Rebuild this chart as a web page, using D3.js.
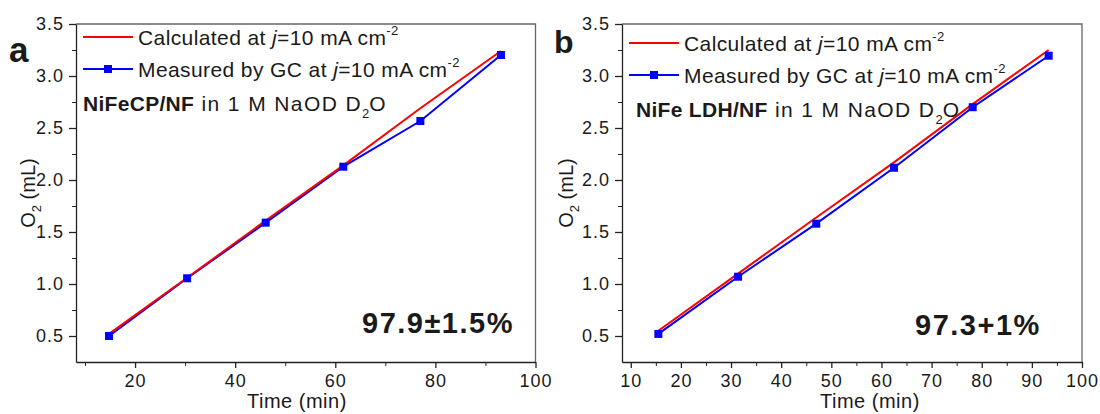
<!DOCTYPE html>
<html lang="en">
<head>
<meta charset="UTF-8" />
<title>O2 faradaic efficiency</title>
<script src="https://d3js.org/d3.v7.min.js"></script>
<style>
  body { margin: 0; background: #fff; }
  svg text { font-family: "Liberation Sans", Arial, sans-serif; fill: #1a1a1a; }
  .tick text { font-size: 18px; letter-spacing: 1px; }
  .tick line, .domain { stroke: #222; }
</style>
</head>
<body>
<div id="chart"></div>
<script>
// values
const timeA = [14.8, 30.4, 46.1, 61.6, 77.0, 93.1];
const measuredA = [0.50, 1.055, 1.59, 2.128, 2.567, 3.202];
const calculatedA = [0.52, 1.06, 1.61, 2.14, 2.69, 3.24];

const timeB = [15.5, 31.4, 47.0, 62.5, 78.2, 93.35];
const measuredB = [0.52, 1.07, 1.58, 2.118, 2.70, 3.195];
const calculatedB = [0.55, 1.10, 1.64, 2.17, 2.73, 3.25];

const yMajor = [0.5, 1.0, 1.5, 2.0, 2.5, 3.0, 3.5];
const yMinor = [0.75, 1.25, 1.75, 2.25, 2.75, 3.25];
const xMajorA = [20, 40, 60, 80, 100];
const xMinorA = [10, 30, 50, 70, 90];
const xMajorB = [10, 20, 30, 40, 50, 60, 70, 80, 90, 100];
const xMinorB = [15, 25, 35, 45, 55, 65, 75, 85, 95];

const svg = d3.select('#chart').append('svg')
  .attr('width', 1100).attr('height', 414);

const plotTop = 24, plotBottom = 362;

function drawPanel(o) {
  const x = d3.scaleLinear().domain(o.xDomain).range([o.left, o.right]);
  const y = d3.scaleLinear().domain([0.25, 3.5]).range([plotBottom, plotTop]);
  const g = svg.append('g');

  // top / right frame
  g.append('path')
    .attr('d', `M${o.left},${plotTop}H${o.right}V${plotBottom}`)
    .attr('fill', 'none').attr('stroke', '#666').attr('stroke-width', 1.3);

  // minor ticks
  g.append('g').attr('transform', `translate(${o.left},0)`)
    .call(d3.axisLeft(y).tickValues(yMinor).tickSize(4).tickFormat('').tickSizeOuter(0))
    .call(a => a.select('.domain').remove());
  g.append('g').attr('transform', `translate(0,${plotBottom})`)
    .call(d3.axisBottom(x).tickValues(o.xMinor).tickSize(4).tickFormat('').tickSizeOuter(0))
    .call(a => a.select('.domain').remove());

  g.append('g').attr('transform', `translate(${o.left},0)`)
    .call(d3.axisLeft(y).tickValues(yMajor).tickSize(7).tickPadding(5)
      .tickFormat(d3.format('.1f')).tickSizeOuter(0))
    .call(a => a.selectAll('line, .domain').attr('stroke-width', 1.3));
  g.append('g').attr('transform', `translate(0,${plotBottom})`)
    .call(d3.axisBottom(x).tickValues(o.xMajor).tickSize(6).tickPadding(6)
      .tickFormat(d3.format('d')).tickSizeOuter(0))
    .call(a => a.selectAll('line, .domain').attr('stroke-width', 1.3));

  const idx = d3.range(o.time.length);
  const calc = d3.line().x(i => x(o.time[i])).y(i => y(o.calc[i]));
  const meas = d3.line().x(i => x(o.time[i])).y(i => y(o.meas[i]));

  g.append('path').attr('d', meas(idx)).attr('fill', 'none')
    .attr('stroke', '#0000ff').attr('stroke-width', 2);
  g.append('path').attr('d', calc(idx)).attr('fill', 'none')
    .attr('stroke', '#ff0000').attr('stroke-width', 2);
  g.selectAll('rect.pt').data(idx).enter().append('rect')
    .attr('class', 'pt')
    .attr('x', i => x(o.time[i]) - 4).attr('y', i => y(o.meas[i]) - 4)
    .attr('width', 8).attr('height', 8).attr('fill', '#0000ff');

  // legend
  const L = o.left, ly = o.legendY;
  g.append('line').attr('x1', L + 7).attr('x2', L + 57)
    .attr('y1', ly).attr('y2', ly).attr('stroke', '#ff0000').attr('stroke-width', 2);
  g.append('line').attr('x1', L + 7).attr('x2', L + 57)
    .attr('y1', ly + 32).attr('y2', ly + 32).attr('stroke', '#0000ff').attr('stroke-width', 2);
  g.append('rect').attr('x', L + 32 - 4).attr('y', ly + 32 - 4)
    .attr('width', 8).attr('height', 8).attr('fill', '#0000ff');

  function legendText(yy, prefix) {
    const t = g.append('text').attr('x', L + 62).attr('y', yy)
      .style('font-size', '21px').style('letter-spacing', '0.4px');
    t.append('tspan').text(prefix);
    t.append('tspan').style('font-style', 'italic').text('j');
    t.append('tspan').text('=10 mA cm');
    t.append('tspan').attr('dy', -10).style('font-size', '13px').text('-2');
  }
  legendText(ly + 8, 'Calculated at ');
  legendText(ly + 40, 'Measured by GC at ');

  const s = g.append('text').attr('x', L + o.sampleDx).attr('y', ly + 74)
    .style('font-size', '21px');
  s.append('tspan').style('font-weight', 'bold').style('letter-spacing', '0.3px').text(o.sample);
  s.append('tspan').style('letter-spacing', '1.4px').text(' in 1 M NaOD D');
  s.append('tspan').attr('dy', 7).style('font-size', '13px').text('2');
  s.append('tspan').attr('dy', -7).style('letter-spacing', '1.4px').text('O');

  // efficiency
  g.append('text').attr('x', o.effX).attr('y', o.effY)
    .style('font-size', '29px').style('font-weight', 'bold')
    .style('letter-spacing', '1.5px').text(o.eff);

  // panel letter
  g.append('text').attr('x', o.letterX).attr('y', o.letterY)
    .style('font-size', o.letterSize).style('font-weight', 'bold').text(o.letter);

  // axis titles
  g.append('text').attr('x', o.xTitleX).attr('y', 408)
    .style('font-size', '20px').style('letter-spacing', '0.5px').text('Time (min)');
  const yt = g.append('text')
    .attr('transform', `translate(${o.yTitleX},${(plotTop + plotBottom) / 2}) rotate(-90)`)
    .attr('text-anchor', 'middle').style('font-size', '20px');
  yt.append('tspan').text('O');
  yt.append('tspan').attr('dy', 6).style('font-size', '13px').text('2');
  yt.append('tspan').attr('dy', -6).text(' (mL)');
}

drawPanel({
  left: 76, right: 535.5, xDomain: [8.2, 100],
  xMajor: xMajorA, xMinor: xMinorA,
  time: timeA, meas: measuredA, calc: calculatedA,
  legendY: 37, sample: 'NiFeCP/NF', sampleDx: 7,
  eff: '97.9\u00b11.5%', effX: 362, effY: 333,
  letter: 'a', letterX: 9, letterY: 62, letterSize: '35px',
  xTitleX: 247, yTitleX: 35
});

drawPanel({
  left: 622, right: 1082, xDomain: [8.25, 100],
  xMajor: xMajorB, xMinor: xMinorB,
  time: timeB, meas: measuredB, calc: calculatedB,
  legendY: 43, sample: 'NiFe LDH/NF', sampleDx: 14,
  eff: '97.3+1%', effX: 915, effY: 335,
  letter: 'b', letterX: 554, letterY: 53, letterSize: '32px',
  xTitleX: 820, yTitleX: 573
});
</script>
</body>
</html>
